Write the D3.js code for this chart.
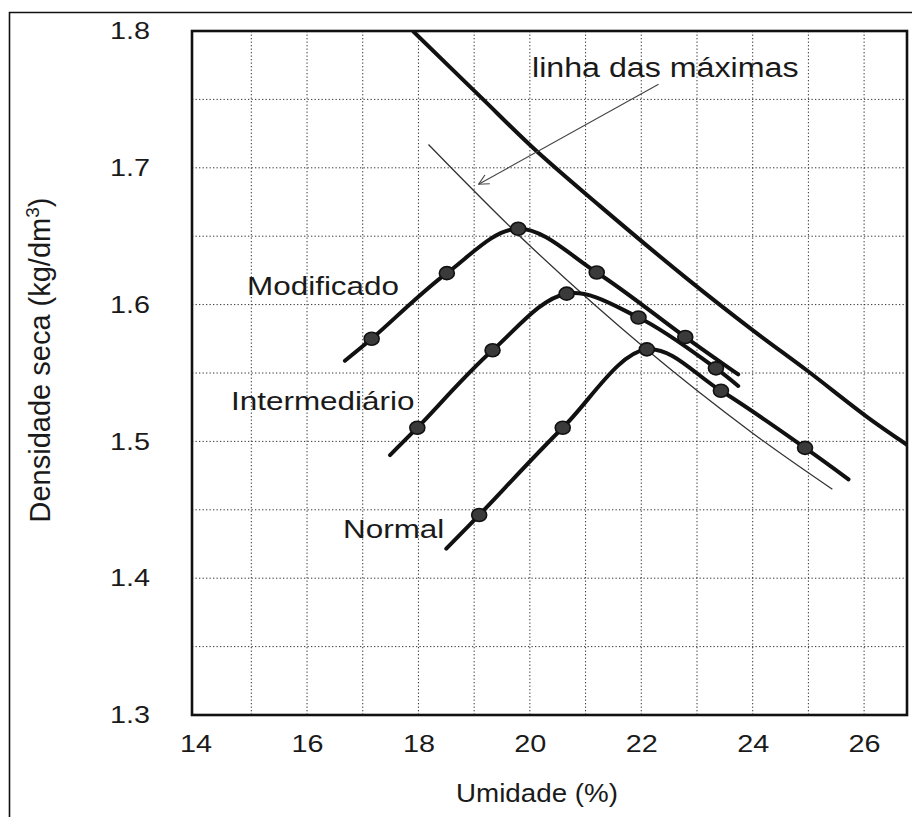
<!DOCTYPE html>
<html>
<head>
<meta charset="utf-8">
<script src="https://cdn.jsdelivr.net/npm/d3@7"></script>
<style>
  html, body { margin: 0; padding: 0; background: #fff; }
  svg { display: block; }
  text { font-family: "Liberation Sans", Arial, sans-serif; fill: #1a1a1a; }
</style>
</head>
<body>
<svg id="chart" width="912" height="817"></svg>
<script>
// Compaction curves: humidity (%) vs dry density (kg/dm3)
const modificadoW = [16.68, 17.16, 18.51, 19.79, 21.20, 22.79, 23.74];
const modificadoD = [1.559, 1.575, 1.623, 1.6555, 1.6235, 1.5763, 1.549];

const intermediarioW = [17.49, 17.98, 19.33, 20.66, 21.95, 23.34, 23.74];
const intermediarioD = [1.490, 1.510, 1.5666, 1.608, 1.5906, 1.5534, 1.5405];

const normalW = [18.50, 19.09, 20.59, 22.10, 23.43, 24.94, 25.72];
const normalD = [1.4216, 1.4462, 1.5100, 1.5673, 1.5370, 1.4953, 1.4723];

// line through the maxima (thin) and saturation line (thick)
const maximasW = [18.18, 20.00, 22.10, 24.00, 25.43];
const maximasD = [1.717, 1.643, 1.567, 1.506, 1.465];

const saturacaoW = [17.90, 19.11, 20.06, 21.26, 22.82, 24.01, 24.97, 26.05, 26.79];
const saturacaoD = [1.800, 1.752, 1.7145, 1.672, 1.619, 1.581, 1.552, 1.518, 1.497];

// arrow from the annotation to the line of maxima
const arrowW = [22.31, 19.08];
const arrowD = [1.761, 1.688];

const xTicks = [14, 16, 18, 20, 22, 24, 26];
const xTickLabels = ["14", "16", "18", "20", "22", "24", "26"];
const yTicks = [1.3, 1.4, 1.5, 1.6, 1.7, 1.8];
const yTickLabels = ["1.3", "1.4", "1.5", "1.6", "1.7", "1.8"];
const xGrid = [15, 16, 17, 18, 19, 20, 21, 22, 23, 24, 25, 26];
const yGrid = [1.35, 1.4, 1.45, 1.5, 1.55, 1.6, 1.65, 1.7, 1.75];

const curveLabels = ["Modificado", "Intermediário", "Normal"];

const svg = d3.select("#chart");
const pLeft = 192, pRight = 907, pTop = 31, pBottom = 715;

const x = d3.scaleLinear().domain([13.935, 26.77]).range([pLeft, pRight]);
const y = d3.scaleLinear().domain([1.3, 1.8]).range([pBottom, pTop]);

// outer border
svg.append("path")
  .attr("d", "M9.5,817 L9.5,12.5 L912,12.5")
  .attr("fill", "none").attr("stroke", "#111").attr("stroke-width", 1.6);

const defs = svg.append("defs");
defs.append("clipPath").attr("id", "plotClip")
  .append("rect").attr("x", pLeft).attr("y", pTop)
  .attr("width", pRight - pLeft).attr("height", pBottom - pTop);

defs.append("marker").attr("id", "headEnd")
  .attr("viewBox", "0 0 12 12").attr("refX", 11).attr("refY", 6)
  .attr("markerWidth", 12).attr("markerHeight", 12)
  .attr("markerUnits", "userSpaceOnUse").attr("orient", "auto")
  .append("path").attr("d", "M1,1 L11,6 L1,11")
  .attr("fill", "none").attr("stroke", "#444").attr("stroke-width", 1.1);

// dotted grid
const grid = svg.append("g").attr("stroke", "#333").attr("stroke-width", 1)
  .attr("stroke-dasharray", "1.3,2.2");
grid.selectAll("line.v").data(xGrid).join("line").attr("class", "v")
  .attr("x1", d => x(d)).attr("x2", d => x(d))
  .attr("y1", pTop).attr("y2", pBottom);
grid.selectAll("line.h").data(yGrid).join("line").attr("class", "h")
  .attr("x1", pLeft).attr("x2", pRight)
  .attr("y1", d => y(d)).attr("y2", d => y(d));

// axes (labels only; the frame draws the axis lines)
const xAxis = svg.append("g").attr("transform", `translate(0,${pBottom})`)
  .call(d3.axisBottom(x).tickValues(xTicks).tickSize(0).tickPadding(20)
    .tickFormat((d, i) => xTickLabels[i]));
xAxis.select(".domain").remove();
xAxis.selectAll("text").attr("font-size", 24).attr("fill", "#1a1a1a")
  .attr("font-family", "Liberation Sans, Arial, sans-serif")
  .attr("transform", "scale(1.2,1)");

const yAxis = svg.append("g").attr("transform", `translate(${pLeft},0)`)
  .call(d3.axisLeft(y).tickValues(yTicks).tickSize(0).tickPadding(35)
    .tickFormat((d, i) => yTickLabels[i]));
yAxis.select(".domain").remove();
yAxis.selectAll("text").attr("font-size", 24).attr("fill", "#1a1a1a")
  .attr("font-family", "Liberation Sans, Arial, sans-serif")
  .attr("transform", "scale(1.2,1)");

// axis titles
svg.append("text")
  .attr("transform", "translate(537,802) scale(1.11,1)")
  .attr("text-anchor", "middle").attr("font-size", 25)
  .text("Umidade (%)");

const yTitle = svg.append("text")
  .attr("transform", "translate(50,360) rotate(-90)")
  .attr("text-anchor", "middle").attr("font-size", 29);
yTitle.append("tspan").text("Densidade seca (kg/dm");
yTitle.append("tspan").attr("font-size", 19).attr("dy", -11).text("3");
yTitle.append("tspan").attr("dy", 11).text(")");

const plot = svg.append("g").attr("clip-path", "url(#plotClip)");

const line = d3.line().x(d => x(d[0])).y(d => y(d[1]))
  .curve(d3.curveCatmullRom.alpha(0.5));
const pairs = (ws, ds) => ws.map((w, i) => [w, ds[i]]);

// saturation line
plot.append("path")
  .datum(pairs(saturacaoW, saturacaoD))
  .attr("d", line)
  .attr("fill", "none").attr("stroke", "#111").attr("stroke-width", 4);

// line of maxima
plot.append("path")
  .datum(pairs(maximasW, maximasD))
  .attr("d", line)
  .attr("fill", "none").attr("stroke", "#333").attr("stroke-width", 1.3);

// compaction curves and their measured points
const series = [
  pairs(modificadoW, modificadoD),
  pairs(intermediarioW, intermediarioD),
  pairs(normalW, normalD)
];
series.forEach(s => {
  plot.append("path").datum(s)
    .attr("d", line)
    .attr("fill", "none").attr("stroke", "#111").attr("stroke-width", 4)
    .attr("stroke-linecap", "round");
});
series.forEach(s => {
  plot.append("g").selectAll("ellipse").data(s.slice(1, -1)).join("ellipse")
    .attr("cx", d => x(d[0])).attr("cy", d => y(d[1]))
    .attr("rx", 7.5).attr("ry", 6.5)
    .attr("fill", "#3a3a3a").attr("stroke", "#111").attr("stroke-width", 1.6);
});

// arrow
svg.append("line")
  .attr("x1", x(arrowW[0])).attr("y1", y(arrowD[0]))
  .attr("x2", x(arrowW[1])).attr("y2", y(arrowD[1]))
  .attr("stroke", "#444").attr("stroke-width", 1.1)
  .attr("marker-end", "url(#headEnd)");

// annotations
svg.append("text").attr("transform", "translate(532,77) scale(1.15,1)")
  .attr("font-size", 28).text("linha das máximas");

const labelPos = [[247, 295], [231, 410], [343, 538]];
curveLabels.forEach((t, i) => {
  svg.append("text")
    .attr("transform", `translate(${labelPos[i][0]},${labelPos[i][1]}) scale(1.21,1)`)
    .attr("font-size", 26).text(t);
});

// plot frame
svg.append("rect").attr("x", pLeft).attr("y", pTop)
  .attr("width", pRight - pLeft).attr("height", pBottom - pTop)
  .attr("fill", "none").attr("stroke", "#111").attr("stroke-width", 2.6);
</script>
</body>
</html>
